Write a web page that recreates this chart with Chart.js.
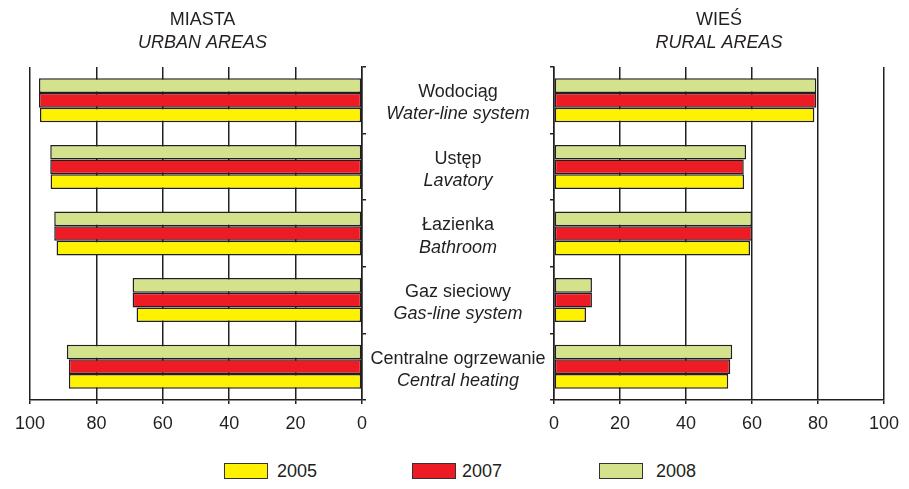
<!DOCTYPE html>
<html>
<head>
<meta charset="utf-8">
<script src="https://cdn.jsdelivr.net/npm/chart.js@4.4.1/dist/chart.umd.min.js"></script>
<style>
  html, body { margin: 0; padding: 0; background: #fff; }
  body { width: 909px; height: 489px; position: relative; overflow: hidden; font-family: "Liberation Sans", Arial, sans-serif; color: #231f20; }
  #wrapL { position: absolute; left: 0; top: 0; width: 375px; height: 445px; }
  #wrapR { position: absolute; left: 362px; top: 0; width: 547px; height: 445px; }
  .leg { position: absolute; font-size: 18px; line-height: 18px; }
  .box { position: absolute; width: 42px; height: 14px; border: 1px solid #333; }
</style>
</head>
<body>
<div id="wrapL"><canvas id="left"></canvas></div>
<div id="wrapR"><canvas id="right"></canvas></div>
<div class="box" style="left:224px;top:463px;background:#fff200"></div>
<div class="leg" style="left:277px;top:462px">2005</div>
<div class="box" style="left:412px;top:463px;background:#ed1c24"></div>
<div class="leg" style="left:462px;top:462px">2007</div>
<div class="box" style="left:599px;top:463px;background:#d4e28b"></div>
<div class="leg" style="left:656px;top:462px">2008</div>
<script>
// ---- data ----
const categoriesPL = ["Wodociąg", "Ustęp", "Łazienka", "Gaz sieciowy", "Centralne ogrzewanie"];
const categoriesEN = ["Water-line system", "Lavatory", "Bathroom", "Gas-line system", "Central heating"];
const urban2005 = [97.0, 93.8, 92.0, 67.9, 88.3];
const urban2007 = [97.3, 93.9, 92.7, 69.1, 88.3];
const urban2008 = [97.3, 93.9, 92.7, 69.1, 88.9];
const rural2005 = [78.9, 57.6, 59.4, 9.7, 52.8];
const rural2007 = [79.5, 57.5, 60.0, 11.5, 53.4];
const rural2008 = [79.5, 58.2, 60.0, 11.5, 54.0];
const xTicks = [0, 20, 40, 60, 80, 100];
const seriesLabels = ["2005", "2007", "2008"];

const C_YEL = "#fff200", C_RED = "#ed1c24", C_GRN = "#d4e28b";
const LINE = "#231f20";
const FONT = "'Liberation Sans', Arial, sans-serif";

function datasets(d05, d07, d08) {
  const common = { borderColor: LINE, borderWidth: 1.5, borderSkipped: false,
    categoryPercentage: 0.66, barPercentage: 1.0 };
  return [
    Object.assign({ label: seriesLabels[2], data: d08, backgroundColor: C_GRN }, common),
    Object.assign({ label: seriesLabels[1], data: d07, backgroundColor: C_RED }, common),
    Object.assign({ label: seriesLabels[0], data: d05, backgroundColor: C_YEL }, common)
  ];
}

function xScale(reverse) {
  return {
    type: "linear", min: 0, max: 100, reverse: reverse,
    afterBuildTicks: s => { s.ticks = xTicks.map(v => ({ value: v })); },
    afterFit: s => { s.height = 45; },
    grid: { color: LINE, lineWidth: 1.5, drawTicks: true, tickLength: 4, tickColor: LINE },
    border: { display: true, color: LINE, width: 1.5 },
    ticks: { color: LINE, font: { family: FONT, size: 18 }, padding: 9 }
  };
}

function yScale(pos, width) {
  return {
    type: "category", position: pos, offset: true,
    afterFit: s => { s.width = width; },
    grid: { offset: true, drawOnChartArea: false, drawTicks: true, tickLength: 4, color: LINE, lineWidth: 1.5 },
    border: { display: true, color: LINE, width: 1.5 },
    ticks: { display: false }
  };
}

function titles(t, st, fullSize) {
  return {
    title: { display: true, text: t, fullSize: fullSize, color: LINE,
      font: { family: FONT, size: 18, weight: "normal" }, padding: { top: 9, bottom: 0 } },
    subtitle: { display: true, text: st, fullSize: fullSize, color: LINE,
      font: { family: FONT, size: 18, style: "italic", weight: "normal" }, padding: { top: 1.5, bottom: 13.3 } }
  };
}

const labelPlugin = {
  id: "catLabels",
  afterDraw(chart) {
    const ys = chart.scales.y;
    const ctx = chart.ctx;
    const cx = (ys.left + ys.right) / 2;
    ctx.save();
    ctx.fillStyle = LINE;
    ctx.textAlign = "center";
    ctx.textBaseline = "middle";
    categoriesPL.forEach((c, i) => {
      const y = ys.getPixelForValue(i);
      ctx.font = "18px " + FONT;
      ctx.fillText(c, cx, y - 8);
      ctx.font = "italic 18px " + FONT;
      ctx.fillText(categoriesEN[i], cx, y + 14);
    });
    ctx.restore();
  }
};

new Chart(document.getElementById("left"), {
  type: "bar",
  data: { labels: categoriesPL, datasets: datasets(urban2005, urban2007, urban2008) },
  options: {
    indexAxis: "y", responsive: true, maintainAspectRatio: false, animation: false,
    layout: { padding: { left: 30, right: 0, top: 0, bottom: 0 } },
    scales: { x: xScale(true), y: yScale("right", 13) },
    plugins: Object.assign({ legend: { display: false }, tooltip: { enabled: false } },
      titles("MIASTA", "URBAN AREAS", true))
  }
});

new Chart(document.getElementById("right"), {
  type: "bar",
  data: { labels: categoriesPL, datasets: datasets(rural2005, rural2007, rural2008) },
  options: {
    indexAxis: "y", responsive: true, maintainAspectRatio: false, animation: false,
    layout: { padding: { left: 0, right: 25, top: 0, bottom: 0 } },
    scales: { x: xScale(false), y: yScale("left", 192) },
    plugins: Object.assign({ legend: { display: false }, tooltip: { enabled: false } },
      titles("WIEŚ", "RURAL AREAS", false))
  },
  plugins: [labelPlugin]
});
</script>
</body>
</html>
